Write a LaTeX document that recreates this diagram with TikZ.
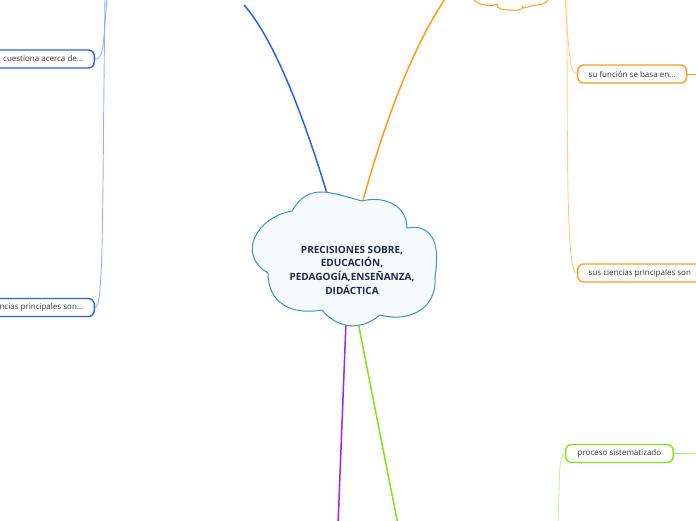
\documentclass[tikz,border=0pt]{standalone}
\usepackage{fontspec}
\setmainfont{Open Sans}
\usetikzlibrary{backgrounds}
\definecolor{cloudline}{RGB}{58,143,211}
\definecolor{cloudfill}{RGB}{246,251,253}
\definecolor{roottext}{RGB}{27,42,74}
\definecolor{bluemain}{RGB}{38,96,245}
\definecolor{bluelight}{RGB}{150,176,255}
\definecolor{orangemain}{RGB}{255,155,26}
\definecolor{orangelight}{RGB}{255,205,135}
\definecolor{purplemain}{RGB}{165,29,255}
\definecolor{greenmain}{RGB}{125,230,20}
\definecolor{greenlight}{RGB}{195,248,140}
\definecolor{subtext}{RGB}{51,51,51}
\tikzset{
  subbox/.style={draw, line width=1.4pt, fill=white, rounded corners=6pt,
    minimum height=18pt, inner xsep=11pt, inner ysep=0pt, text=subtext,
    font=\fontsize{8}{9}\selectfont},
  mainlink/.style={line width=1.5pt},
  sublink/.style={line width=0.9pt},
}
\begin{document}
\begin{tikzpicture}[x=1pt,y=1pt]
\useasboundingbox (0,0) rectangle (696,-520);

% cloud anchor points
\coordinate (cA) at (292,-211);
\coordinate (cB) at (362,-201);
\coordinate (cC) at (407,-228);
\coordinate (cD) at (435,-276);
\coordinate (cE) at (380,-315);
\coordinate (cF) at (322,-310);
\coordinate (cG) at (268,-273);
\coordinate (rootN) at (329,-200);
\coordinate (rootNE) at (362,-204);
\coordinate (rootS) at (346,-322);
\coordinate (rootSE) at (358,-322);

% off-picture ends
\coordinate (blueEnd) at (244,-5);
\coordinate (orangeEnd) at (450,8);
\coordinate (purpleEnd) at (338,-525);
\coordinate (greenEnd) at (398,-525);
\coordinate (blA) at (107,2);
\coordinate (blB) at (105,2);
\coordinate (orA) at (565,2);
\coordinate (orB) at (567,2);
\coordinate (grA) at (558,-522);
\coordinate (stubF) at (700,-74);
\coordinate (stubP) at (700,-454);

% orange partial cloud at top
\filldraw[draw=orangemain, line width=1pt, fill=white]
  (473,3) to[out=-80,in=170] (485,-5) to[out=-10,in=-150] (497,-4)
  to[out=-100,in=180] (510,-10) to[out=0,in=-90] (523,-6)
  to[out=-120,in=180] (537,-5) to[out=0,in=-100] (549,3) -- cycle;

% sub nodes
\node[subbox, draw=orangemain, anchor=west] (fun) at (577,-74) {su función se basa en...};
\node[subbox, draw=orangemain, anchor=west] (cien) at (577,-273) {sus ciencias principales son};
\node[subbox, draw=bluemain, anchor=east] (cuest) at (95,-59) {cuestiona acerca de...};
\node[subbox, draw=bluemain, anchor=east] (ncias) at (95,-307.5) {ncias principales son...};
\node[subbox, draw=greenmain, anchor=west, inner xsep=12pt] (proc) at (565,-453.5) {proceso sistematizado};

% central cloud
\filldraw[draw=cloudline, fill=cloudfill, line width=1pt]
  (cA) to[out=60,in=165,looseness=1.2] (cB)
  to[out=15,in=90,looseness=1.1] (cC)
  to[out=10,in=80,looseness=1.3] (cD)
  to[out=-85,in=-15,looseness=1.2] (cE)
  to[out=-140,in=-50,looseness=1.1] (cF)
  to[out=-170,in=-90,looseness=1.2] (cG)
  to[out=150,in=-170,looseness=1.4] (cA) -- cycle;
\node[align=center, text=roottext, font=\bfseries\fontsize{10}{13.7}\selectfont] (root) at (352,-270)
  {PRECISIONES SOBRE,\\EDUCACIÓN,\\PEDAGOGÍA,ENSEÑANZA,\\DIDÁCTICA};

\begin{scope}[on background layer]
  \draw[mainlink, bluemain] (rootN) .. controls (305,-120) and (275,-40) .. (blueEnd);
  \draw[mainlink, orangemain] (rootNE) .. controls (385,-120) and (415,-40) .. (orangeEnd);
  \draw[mainlink, purplemain] (rootS) -- (purpleEnd);
  \draw[mainlink, greenmain] (rootSE) -- (greenEnd);
  \draw[sublink, bluelight] (blA) .. controls (103,-50) and (103,-59) .. (cuest.east);
  \draw[sublink, bluelight] (blB) .. controls (102,-220) and (104,-307) .. (ncias.east);
  \draw[sublink, orangelight] (orA) .. controls (569,-55) and (570,-74) .. (fun.west);
  \draw[sublink, orangelight] (orB) .. controls (567,-210) and (568,-273) .. (cien.west);
  \draw[sublink, greenlight] (grA) .. controls (560,-480) and (558,-454) .. (proc.west);
  \draw[line width=1pt, orangemain] (fun.east) -- (stubF);
  \draw[line width=1pt, greenmain!70] (proc.east) -- (stubP);
\end{scope}
\end{tikzpicture}
\end{document}
